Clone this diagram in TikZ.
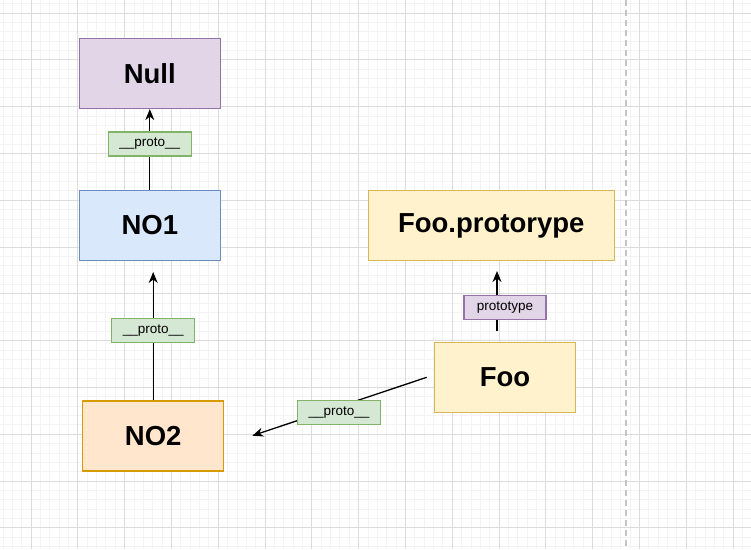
\documentclass[tikz,border=0pt]{standalone}
\usepackage{fontspec}
\setmainfont{Liberation Sans}
\usepackage{xcolor}
\usetikzlibrary{arrows.meta}
\definecolor{gmajor}{HTML}{DCDCDC}
\definecolor{gminor}{HTML}{F3F3F3}
\definecolor{gdash}{HTML}{C4C4C4}
\definecolor{lilac}{HTML}{E1D5E7}
\definecolor{lilacb}{HTML}{9673A6}
\definecolor{sky}{HTML}{DAE8FC}
\definecolor{skyb}{HTML}{6C8EBF}
\definecolor{peach}{HTML}{FFE6CC}
\definecolor{peachb}{HTML}{D79B00}
\definecolor{cream}{HTML}{FFF2CC}
\definecolor{creamb}{HTML}{D6B656}
\definecolor{mint}{HTML}{D5E8D4}
\definecolor{mintb}{HTML}{82B366}
\tikzset{
	objbox/.style={rectangle, draw=#1, line width=1.2pt, inner sep=0pt,
		minimum width=141pt, minimum height=70pt,
		font=\fontsize{27.5}{30}\selectfont\bfseries},
	tagbox/.style={rectangle, draw=#1, line width=1.2pt, inner sep=0pt,
		minimum width=83pt, minimum height=24pt,
		font=\fontsize{13.5}{15}\selectfont},
	link/.style={line width=1.3pt, -{Stealth[length=11pt,width=9pt,inset=3.5pt]}}
}
\begin{document}
\begin{tikzpicture}[x=1pt,y=-1pt]
	\useasboundingbox (0,0) rectangle (751,549);
	\fill[white] (0,0) rectangle (751,549);
	%grid
	\foreach \i in {-3,...,77}
	\draw[gminor, line width=0.8pt] ({31+9.36*\i},0) -- ++(0,549);
	\foreach \i in {-1,...,57}
	\draw[gminor, line width=0.8pt] (0,{13+9.36*\i}) -- ++(751,0);
	\foreach \i in {0,...,15}
	\draw[gmajor, line width=0.9pt] ({31+46.8*\i},0) -- ++(0,549);
	\foreach \i in {0,...,11}
	\draw[gmajor, line width=0.9pt] (0,{13+46.8*\i}) -- ++(751,0);
	\draw[gdash, line width=1.2pt, dash pattern=on 6pt off 4pt] (626,0) -- (626,549);
	%objects
	\node[objbox=lilacb, fill=lilac] (null) at (149.8,73.5) {Null};
	\node[objbox=skyb, fill=sky] (noone) at (149.8,225.3) {NO1};
	\node[objbox=peachb, fill=peach] (notwo) at (153.2,436) {NO2};
	\node[objbox=creamb, fill=cream, minimum width=246pt] (fooproto) at (491.2,225.5) {Foo.protorype};
	\node[objbox=creamb, fill=cream] (foo) at (505,377.5) {Foo};
	%free ends
	\coordinate (notwoup) at (153.2,272);
	\coordinate (fooup) at (497,331);
	\coordinate (protoend) at (497,271);
	\coordinate (foofrom) at (426.7,377.3);
	\coordinate (footo) at (252.3,435.7);
	%links
	\draw[link] (noone) -- (null);
	\draw[link] (notwo.north) -- (notwoup);
	\draw[link] (fooup) -- (protoend);
	\draw[link] (foofrom) -- (footo);
	%tags
	\node[tagbox=mintb, fill=mint] (tagone) at (149.8,144) {\_\_proto\_\_};
	\node[tagbox=mintb, fill=mint] (tagtwo) at (153.3,330.7) {\_\_proto\_\_};
	\node[tagbox=lilacb, fill=lilac, minimum width=82pt] (tagthree) at (505,307.5) {prototype};
	\node[tagbox=mintb, fill=mint] (tagfour) at (339,412.7) {\_\_proto\_\_};
\end{tikzpicture}
\end{document}
